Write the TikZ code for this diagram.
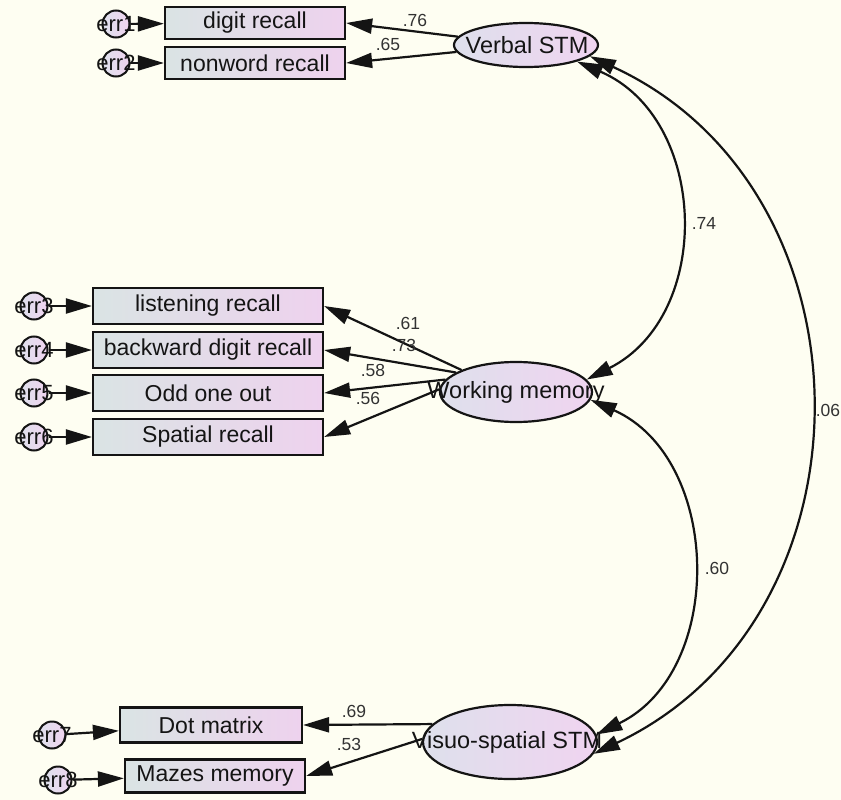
\documentclass[tikz,border=0pt]{standalone}
\usepackage{fontspec}
\setmainfont{Liberation Sans}
\usetikzlibrary{arrows.meta,shapes.geometric}
\definecolor{bgc}{RGB}{254,254,242}
\definecolor{boxl}{RGB}{218,228,228}
\definecolor{boxr}{RGB}{238,210,238}
\definecolor{ell}{RGB}{222,224,236}
\definecolor{elr}{RGB}{240,212,240}
\definecolor{ink}{RGB}{20,20,20}
\definecolor{lab}{RGB}{50,50,50}
\begin{document}
\begin{tikzpicture}[x=1pt,y=-1pt,
 obs/.style={draw=ink, line width=2.2pt, left color=boxl, right color=boxr, minimum height=32pt, inner sep=0pt, font=\fontsize{23}{23}\selectfont, text=ink},
 lat/.style={ellipse, draw=ink, line width=2.2pt, left color=ell, right color=elr, inner sep=0pt},
 errc/.style={circle, draw=ink, line width=2pt, left color=ell, right color=elr, minimum size=27pt, inner sep=0pt},
 big/.style={font=\fontsize{23.5}{23.5}\selectfont, text=ink, inner sep=0pt},
 errt/.style={font=\fontsize{22}{22}\selectfont, text=ink, inner sep=0pt},
 coef/.style={font=\fontsize{17.5}{17.5}\selectfont, text=lab, inner sep=0pt},
 pth/.style={draw=ink, line width=2.2pt, -{Triangle[length=26pt,width=15pt]}},
 cov/.style={draw=ink, line width=2.2pt, {Triangle[length=26pt,width=15pt]}-{Triangle[length=26pt,width=15pt]}, bend left=65, looseness=1.19},
]
\fill[bgc] (0,0) rectangle (841,800);
\useasboundingbox (0,0) rectangle (841,800);

% observed variables
\node[obs, minimum width=180pt] (b1) at (255,23) {digit recall};
\node[obs, minimum width=180pt] (b2) at (255,63) {nonword recall};
\node[obs, minimum width=230pt, minimum height=36pt] (b3) at (208,306) {listening recall};
\node[obs, minimum width=230pt, minimum height=36pt] (b4) at (208,350) {backward digit recall};
\node[obs, minimum width=230pt, minimum height=36pt] (b5) at (208,393) {Odd one out};
\node[obs, minimum width=230pt, minimum height=36pt] (b6) at (208,437) {Spatial recall};
\node[obs, minimum width=182pt, minimum height=35pt] (b7) at (211,725) {Dot matrix};
\node[obs, minimum width=180pt, minimum height=33pt] (b8) at (215,776) {Mazes memory};

% error terms
\node[errc] (e1) at (116,24) {};
\node[errc] (e2) at (116,63) {};
\node[errc] (e3) at (34,306) {};
\node[errc] (e4) at (34,350) {};
\node[errc] (e5) at (34,393) {};
\node[errc] (e6) at (34,437) {};
\node[errc] (e7) at (52,735) {};
\node[errc] (e8) at (58,780) {};

% latent variables
\node[lat, minimum width=144pt, minimum height=44pt] (vstm) at (526,45) {};
\node[lat, minimum width=152pt, minimum height=60pt] (wm) at (516,392) {};
\node[lat, minimum width=174pt, minimum height=74pt] (vs) at (510,742) {};

% error paths
\foreach \i in {1,...,8} { \draw[pth] (e\i) -- (b\i); }

% loadings
\draw[pth] (vstm) -- (b1.east);
\draw[pth] (vstm) -- (b2.east);
\draw[pth] (wm.158) -- (b3.east);
\draw[pth] (wm.162) -- (b4.east);
\draw[pth] (wm.170) -- (b5.east);
\draw[pth] (wm.178) -- (b6.east);
\draw[pth] (vs.167) -- (b7.east);
\draw[pth] (vs.178) -- (b8.east);

% covariances
\draw[cov, looseness=1.15] (vstm.-18) to (wm.10);
\draw[cov, looseness=1.1] (wm.-6) to (vs.5);
\draw[cov, looseness=1.17] (vstm.-10) to (vs.-8);

% texts
\node[big] (vstmt) at (527,45) {Verbal STM};
\node[big] (wmt) at (516,392) {Working memory};
\node[big] (vst) at (507,742) {Visuo-spatial STM};
\node[errt] (t1) at (e1) {err1};
\node[errt] (t2) at (e2) {err2};
\node[errt] (t3) at (e3) {err3};
\node[errt] (t4) at (e4) {err4};
\node[errt] (t5) at (e5) {err5};
\node[errt] (t6) at (e6) {err6};
\node[errt] (t7) at (e7) {err7};
\node[errt] (t8) at (e8) {err8};

\node[coef] (l1) at (415,20) {.76};
\node[coef] (l2) at (388,44) {.65};
\node[coef] (l3) at (704,223) {.74};
\node[coef] (l4) at (408,323) {.61};
\node[coef] (l5) at (404,345) {.73};
\node[coef] (l6) at (373,370) {.58};
\node[coef] (l7) at (368,398) {.56};
\node[coef] (l8) at (828,410) {.06};
\node[coef] (l9) at (717,568) {.60};
\node[coef] (l10) at (354,711) {.69};
\node[coef] (l11) at (349,744) {.53};
\end{tikzpicture}
\end{document}
